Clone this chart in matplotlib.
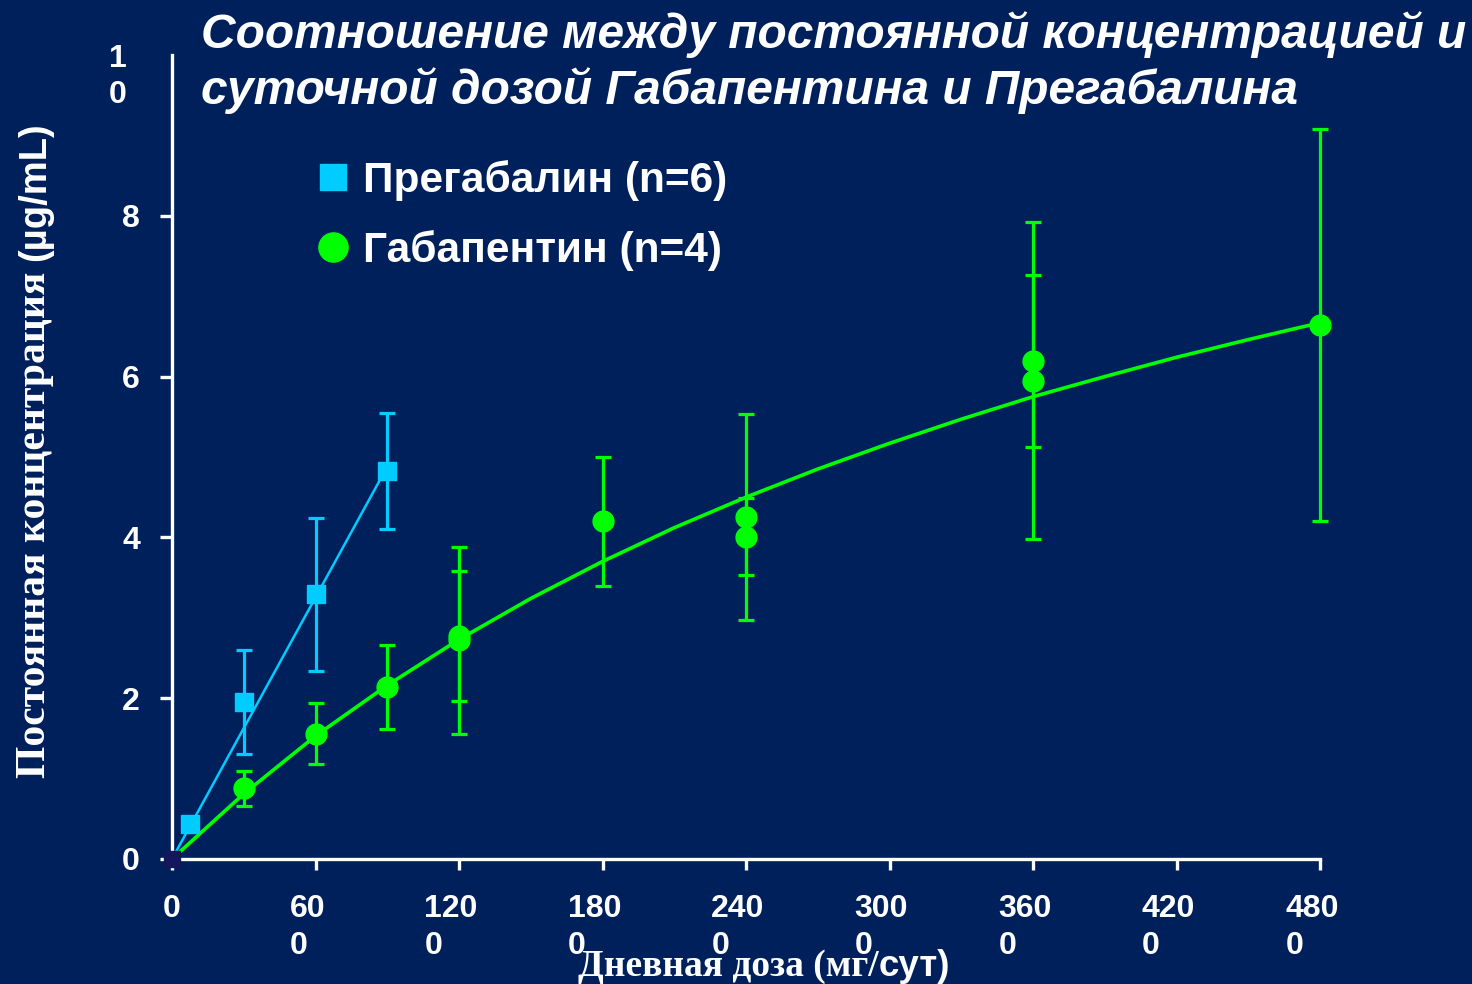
import matplotlib
matplotlib.use("Agg")
import matplotlib.pyplot as plt
import matplotlib.transforms as mtransforms
from matplotlib.lines import Line2D

# Colours
bg = "#00205B"
cyan = "#00CCFF"
green = "#00FF00"

# Pregabalin: daily dose (mg/day) vs steady-state concentration (ug/mL)
preg_dose = [75, 300, 600, 900]
preg_conc = [0.43, 1.95, 3.29, 4.83]
preg_err = [0.0, 0.65, 0.95, 0.72]
preg_fit_dose = [0, 900]
preg_fit_conc = [0, 4.88]

# Gabapentin (two overlapping subgroups at 1200, 2400, 3600)
gaba_dose = [300, 600, 900, 1200, 1200, 1800, 2400, 2400, 3600, 3600, 4800]
gaba_conc = [0.88, 1.56, 2.14, 2.72, 2.77, 4.20, 4.25, 4.01, 5.95, 6.19, 6.64]
gaba_err = [0.22, 0.38, 0.52, 1.16, 0.81, 0.80, 1.28, 0.48, 1.97, 1.07, 2.44]

# fitted gabapentin curve
gaba_fit_dose = [0, 300, 600, 900, 1200, 1500, 1800, 2100, 2400, 2700,
                 3000, 3300, 3600, 3900, 4200, 4500, 4800]
gaba_fit_conc = [0, 0.81, 1.53, 2.16, 2.73, 3.24, 3.70, 4.12, 4.50, 4.85,
                 5.17, 5.47, 5.75, 6.00, 6.24, 6.46, 6.67]

x_ticks = [0, 600, 1200, 1800, 2400, 3000, 3600, 4200, 4800]
x_labels = ["0", "60\n0", "120\n0", "180\n0", "240\n0", "300\n0",
            "360\n0", "420\n0", "480\n0"]
y_ticks = [0, 2, 4, 6, 8]
y_labels = ["0", "2", "4", "6", "8"]

sans = "Liberation Sans"
serif = "Liberation Serif"

fig = plt.figure(figsize=(14.72, 9.84), dpi=100, facecolor=bg)
ax = fig.add_axes([172 / 1472, 125 / 984, 1148 / 1472, 804 / 984])
ax.set_facecolor(bg)

# fit lines
ax.plot(gaba_fit_dose, gaba_fit_conc, color=green, lw=2.6, zorder=2, clip_on=False)
ax.plot(preg_fit_dose, preg_fit_conc, color=cyan, lw=1.8, zorder=2, clip_on=False)

# data with error bars
eb = ax.errorbar(gaba_dose, gaba_conc, yerr=gaba_err, fmt="o", color=green,
                 ms=15, elinewidth=2.3, capsize=6, capthick=2.3, zorder=4)
eb2 = ax.errorbar(preg_dose, preg_conc, yerr=preg_err, fmt="s", color=cyan,
                  ms=13, elinewidth=2.3, capsize=6, capthick=2.3, zorder=4)
for c in (eb, eb2):
    for art in [c.lines[0]] + list(c.lines[1]) + list(c.lines[2]):
        art.set_clip_on(False)
ax.plot([0], [0], "s", color="#14185A", ms=12, zorder=3, clip_on=False)

ax.set_xlim(0, 4800)
ax.set_ylim(0, 10)

for s in ["top", "right"]:
    ax.spines[s].set_visible(False)
for s in ["left", "bottom"]:
    ax.spines[s].set_color("white")
    ax.spines[s].set_linewidth(2.4)

ax.set_xticks(x_ticks)
ax.set_xticklabels(x_labels, fontsize=23, fontweight="bold", family=sans,
                   color="white", linespacing=1.3, multialignment="left")
ax.set_yticks(y_ticks)
ax.set_yticklabels(y_labels, fontsize=23, fontweight="bold", family=sans,
                   color="white")
ax.tick_params(axis="x", colors="white", length=8, width=2.4, pad=17)
ax.tick_params(axis="y", colors="white", length=9, width=2.4, pad=14)

# wrapped labels sit a little left of their ticks
shift = mtransforms.ScaledTranslation(-8 / 100, 0, fig.dpi_scale_trans)
for lab in ax.get_xticklabels()[1:]:
    lab.set_transform(lab.get_transform() + shift)

# top y label "10" wrapped
ax.annotate("1\n0", xy=(0, 10), xycoords="data", xytext=(-54, -22),
            textcoords="offset pixels", ha="center", va="center",
            fontsize=23, fontweight="bold", family=sans, color="white",
            linespacing=1.3, annotation_clip=False)

# title
fig.text(201 / 1472, 1 - 11 / 984,
         "Соотношение между постоянной концентрацией и\n"
         "суточной дозой Габапентина и Прегабалина",
         ha="left", va="top", fontsize=34.5, fontweight="bold", style="italic",
         family=sans, color="white", linespacing=1.25)

# legend
handles = [Line2D([], [], marker="s", color=cyan, ls="none", ms=19),
           Line2D([], [], marker="o", color=green, ls="none", ms=21)]
leg = fig.legend(handles, ["Прегабалин (n=6)", "Габапентин (n=4)"],
                 loc="upper left", bbox_to_anchor=(316 / 1472, 1 - 160 / 984),
                 frameon=False, handlelength=0.8, handletextpad=0.3,
                 labelspacing=0.68, borderaxespad=0, borderpad=0,
                 prop={"family": sans, "weight": "bold", "size": 30.5})
for t in leg.get_texts():
    t.set_color("white")

# axis labels: serif part + sans part
fig.canvas.draw()
r = fig.canvas.get_renderer()

yl1 = fig.text(35 / 1472, 1 - 778 / 984, "Постоянная концентрация ",
               rotation=90, ha="center", va="bottom", fontsize=30,
               fontweight="bold", family=serif, color="white")
bb = yl1.get_window_extent(r)
fig.text(35 / 1472, bb.y1 / fig.bbox.height, "(µg/mL)", rotation=90,
         ha="center", va="bottom", fontsize=27.5, fontweight="bold",
         family=sans, color="white")

xl1 = fig.text(578 / 1472, 8 / 984, "Дневная доза (мг/", ha="left",
               va="baseline", fontsize=27, fontweight="bold", family=serif,
               color="white")
bb = xl1.get_window_extent(r)
fig.text(bb.x1 / fig.bbox.width, 8 / 984, "сут)", ha="left", va="baseline",
         fontsize=26.5, fontweight="bold", family=sans, color="white")

fig.savefig("out.png", dpi=100, facecolor=bg)
